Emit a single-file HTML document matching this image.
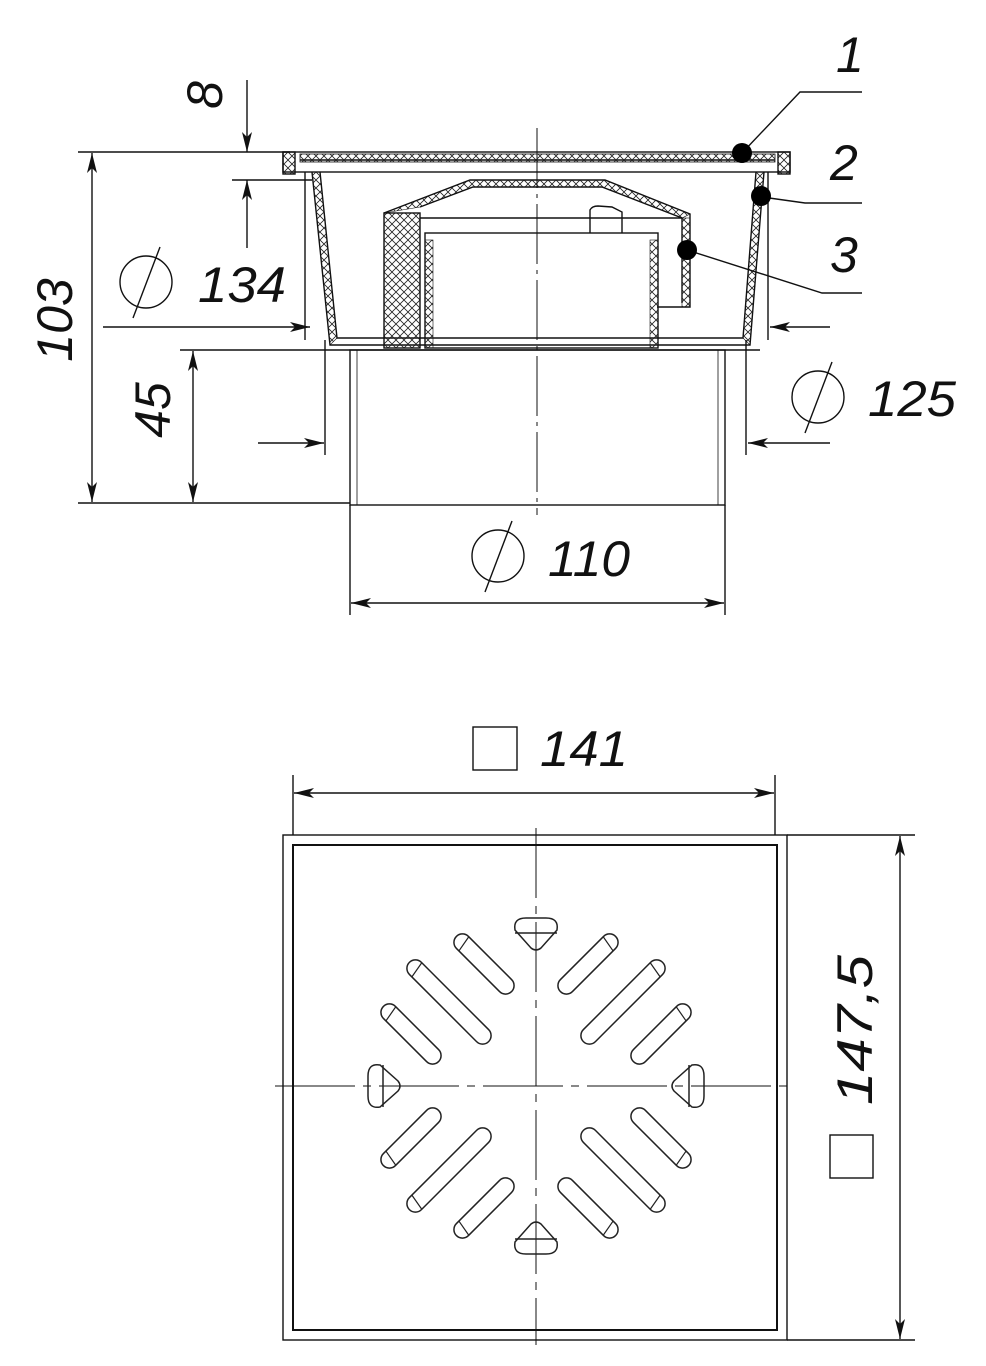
<!DOCTYPE html>
<html><head><meta charset="utf-8"><style>
html,body{margin:0;padding:0;background:#fff}
svg{display:block}
text{font-family:"Liberation Sans",sans-serif;font-style:italic;fill:#111}
</style></head><body>
<svg width="986" height="1366" viewBox="0 0 986 1366" xmlns="http://www.w3.org/2000/svg">
<defs>
<marker id="a" viewBox="0 0 20 10" refX="20" refY="5" markerWidth="20" markerHeight="10" markerUnits="userSpaceOnUse" orient="auto">
<path d="M0,0 L20,5 L0,10 L5,5 Z" fill="#111"/></marker>
<pattern id="h" width="8" height="8" patternUnits="userSpaceOnUse"><path d="M0,0L8,8M8,0L0,8" stroke="#222" stroke-width="0.8"/></pattern>
<g id="s1"><rect x="-8.5" y="-39" width="17" height="78" rx="8.5" fill="none" stroke="#222" stroke-width="1.5"/><line x1="-8.5" y1="-27" x2="8.5" y2="-30" stroke="#222" stroke-width="1.2"/></g>
<g id="s2"><rect x="-8.5" y="-56" width="17" height="112" rx="8.5" fill="none" stroke="#222" stroke-width="1.5"/><line x1="-8.5" y1="-44" x2="8.5" y2="-47" stroke="#222" stroke-width="1.2"/></g>
</defs>
<g stroke="#111" stroke-width="1.4" fill="none">
<rect x="283" y="152" width="507" height="20"/>
<line x1="300" y1="160" x2="775" y2="160"/>
<rect x="300" y="154" width="475" height="8" fill="url(#h)" stroke-width="0.8"/>
<rect x="283" y="152" width="12" height="22" fill="url(#h)"/>
<rect x="778" y="152" width="12" height="22" fill="url(#h)"/>
<path d="M312,172 L330,345 L750,345 L764,172"/>
<path d="M320,172 L337,338 L743,338 L756,172"/>
<polygon points="312,172 320,172 337,338 330,345" fill="url(#h)" stroke-width="0.6"/>
<polygon points="756,172 764,172 750,345 743,338" fill="url(#h)" stroke-width="0.6"/>
<line x1="305" y1="172" x2="305" y2="340"/>
<line x1="768" y1="172" x2="768" y2="340"/>
<line x1="300" y1="350" x2="760" y2="350"/>
<rect x="384" y="213" width="36" height="135" fill="url(#h)"/>
<path d="M384,213 L470,180 L605,180 L690,214 L690,307 L657,307"/>
<path d="M420,207 L473,187 L602,187 L682,218 L682,303" />
<polygon points="384,213 470,180 605,180 690,214 682,218 602,187 473,187 420,207" fill="url(#h)" stroke-width="0.6"/>
<rect x="682" y="218" width="8" height="89" fill="url(#h)" stroke-width="0.6"/>
<line x1="420" y1="218" x2="682" y2="218"/>
<rect x="425" y="233" width="233" height="115"/>
<rect x="425" y="240" width="8" height="108" fill="url(#h)" stroke-width="0.6"/>
<rect x="650" y="240" width="8" height="108" fill="url(#h)" stroke-width="0.6"/>
<path d="M590,233 L590,210 Q592,206 598,206 L612,207 L622,212 L622,233"/>
<rect x="350" y="350" width="375" height="155"/>
<line x1="357" y1="350" x2="357" y2="505" stroke-width="0.8"/>
<line x1="718" y1="350" x2="718" y2="505" stroke-width="0.8"/>
<line x1="325" y1="340" x2="325" y2="455"/>
<line x1="746" y1="340" x2="746" y2="455"/>
<path d="M537,128 L537,515" stroke-dasharray="60,6,4,6" stroke-width="1"/>
<line x1="78" y1="152" x2="290" y2="152"/>
<line x1="78" y1="503" x2="350" y2="503"/>
<line x1="92" y1="330" x2="92" y2="153" marker-end="url(#a)"/>
<line x1="92" y1="330" x2="92" y2="502" marker-end="url(#a)"/>
<line x1="180" y1="350" x2="300" y2="350"/>
<line x1="193" y1="420" x2="193" y2="351" marker-end="url(#a)"/>
<line x1="193" y1="420" x2="193" y2="502" marker-end="url(#a)"/>
<line x1="232" y1="180" x2="312" y2="180"/>
<line x1="247" y1="80" x2="247" y2="152" marker-end="url(#a)"/>
<line x1="247" y1="248" x2="247" y2="180" marker-end="url(#a)"/>
<line x1="103" y1="327" x2="310" y2="327" marker-end="url(#a)"/>
<line x1="830" y1="327" x2="770" y2="327" marker-end="url(#a)"/>
<line x1="258" y1="443" x2="324" y2="443" marker-end="url(#a)"/>
<line x1="830" y1="443" x2="748" y2="443" marker-end="url(#a)"/>
<line x1="350" y1="505" x2="350" y2="615"/>
<line x1="725" y1="505" x2="725" y2="615"/>
<line x1="537" y1="603" x2="351" y2="603" marker-end="url(#a)"/>
<line x1="537" y1="603" x2="724" y2="603" marker-end="url(#a)"/>
<circle cx="146" cy="282" r="26"/><line x1="160" y1="247" x2="133" y2="318"/>
<circle cx="818" cy="397" r="26"/><line x1="832" y1="362" x2="805" y2="433"/>
<circle cx="498" cy="556" r="26"/><line x1="512" y1="521" x2="485" y2="592"/>
<polyline points="742,153 800,92 862,92"/>
<polyline points="762,197 805,203 862,203"/>
<polyline points="687,250 822,293 862,293"/>
</g>
<g fill="#000"><circle cx="742" cy="153" r="10"/><circle cx="761" cy="196" r="10"/><circle cx="687" cy="250" r="10"/></g>
<g font-size="50">
<text x="198" y="302" textLength="88" lengthAdjust="spacingAndGlyphs">134</text>
<text x="868" y="416" textLength="88" lengthAdjust="spacingAndGlyphs">125</text>
<text x="548" y="576" textLength="82" lengthAdjust="spacingAndGlyphs">110</text>
<text x="836" y="72">1</text>
<text x="830" y="180">2</text>
<text x="830" y="272">3</text>
<text transform="translate(72,320) rotate(-90)" text-anchor="middle">103</text>
<text transform="translate(170,410) rotate(-90)" text-anchor="middle">45</text>
<text transform="translate(222,95) rotate(-90)" text-anchor="middle">8</text>
<text x="540" y="766" textLength="88" lengthAdjust="spacingAndGlyphs">141</text>
<text transform="translate(872,1030) rotate(-90)" text-anchor="middle" textLength="150" lengthAdjust="spacingAndGlyphs">147,5</text>
</g>
<g stroke="#111" stroke-width="1.4" fill="none">
<rect x="473" y="727" width="44" height="43"/>
<rect x="830" y="1135" width="43" height="43"/>
<rect x="283" y="835" width="504" height="505"/>
<rect x="293" y="845" width="484" height="485" stroke-width="2"/>
<line x1="293" y1="775" x2="293" y2="835"/>
<line x1="775" y1="775" x2="775" y2="835"/>
<line x1="534" y1="793" x2="294" y2="793" marker-end="url(#a)"/>
<line x1="534" y1="793" x2="774" y2="793" marker-end="url(#a)"/>
<line x1="787" y1="835" x2="915" y2="835"/>
<line x1="787" y1="1340" x2="915" y2="1340"/>
<line x1="900" y1="1088" x2="900" y2="836" marker-end="url(#a)"/>
<line x1="900" y1="1088" x2="900" y2="1339" marker-end="url(#a)"/>
<path d="M536,828 L536,1345" stroke-dasharray="70,8,8,8" stroke-width="1"/>
<path d="M275,1086 L795,1086" stroke-dasharray="80,8,8,8" stroke-width="1"/>
</g>
<g transform="translate(536,1086)">
<g id="q">
<use href="#s1" transform="translate(-52,-122) rotate(-45)"/>
<use href="#s2" transform="translate(-87,-84) rotate(-45)"/>
<use href="#s1" transform="translate(-125,-52) rotate(-45)"/>
</g>
<use href="#q" transform="scale(-1,1)"/>
<use href="#q" transform="scale(1,-1)"/>
<use href="#q" transform="scale(-1,-1)"/>
<g id="t" fill="none" stroke="#222" stroke-width="1.5">
<path d="M-21,-156 Q-23,-168 -10,-168 L10,-168 Q23,-168 21,-156 L5,-138 Q0,-134 -5,-138 Z"/>
<line x1="-21" y1="-153" x2="21" y2="-153"/>
</g>
<use href="#t" transform="rotate(180)"/>
<use href="#t" transform="rotate(90)"/>
<use href="#t" transform="rotate(-90)"/>
</g>
</svg>
</body></html>
